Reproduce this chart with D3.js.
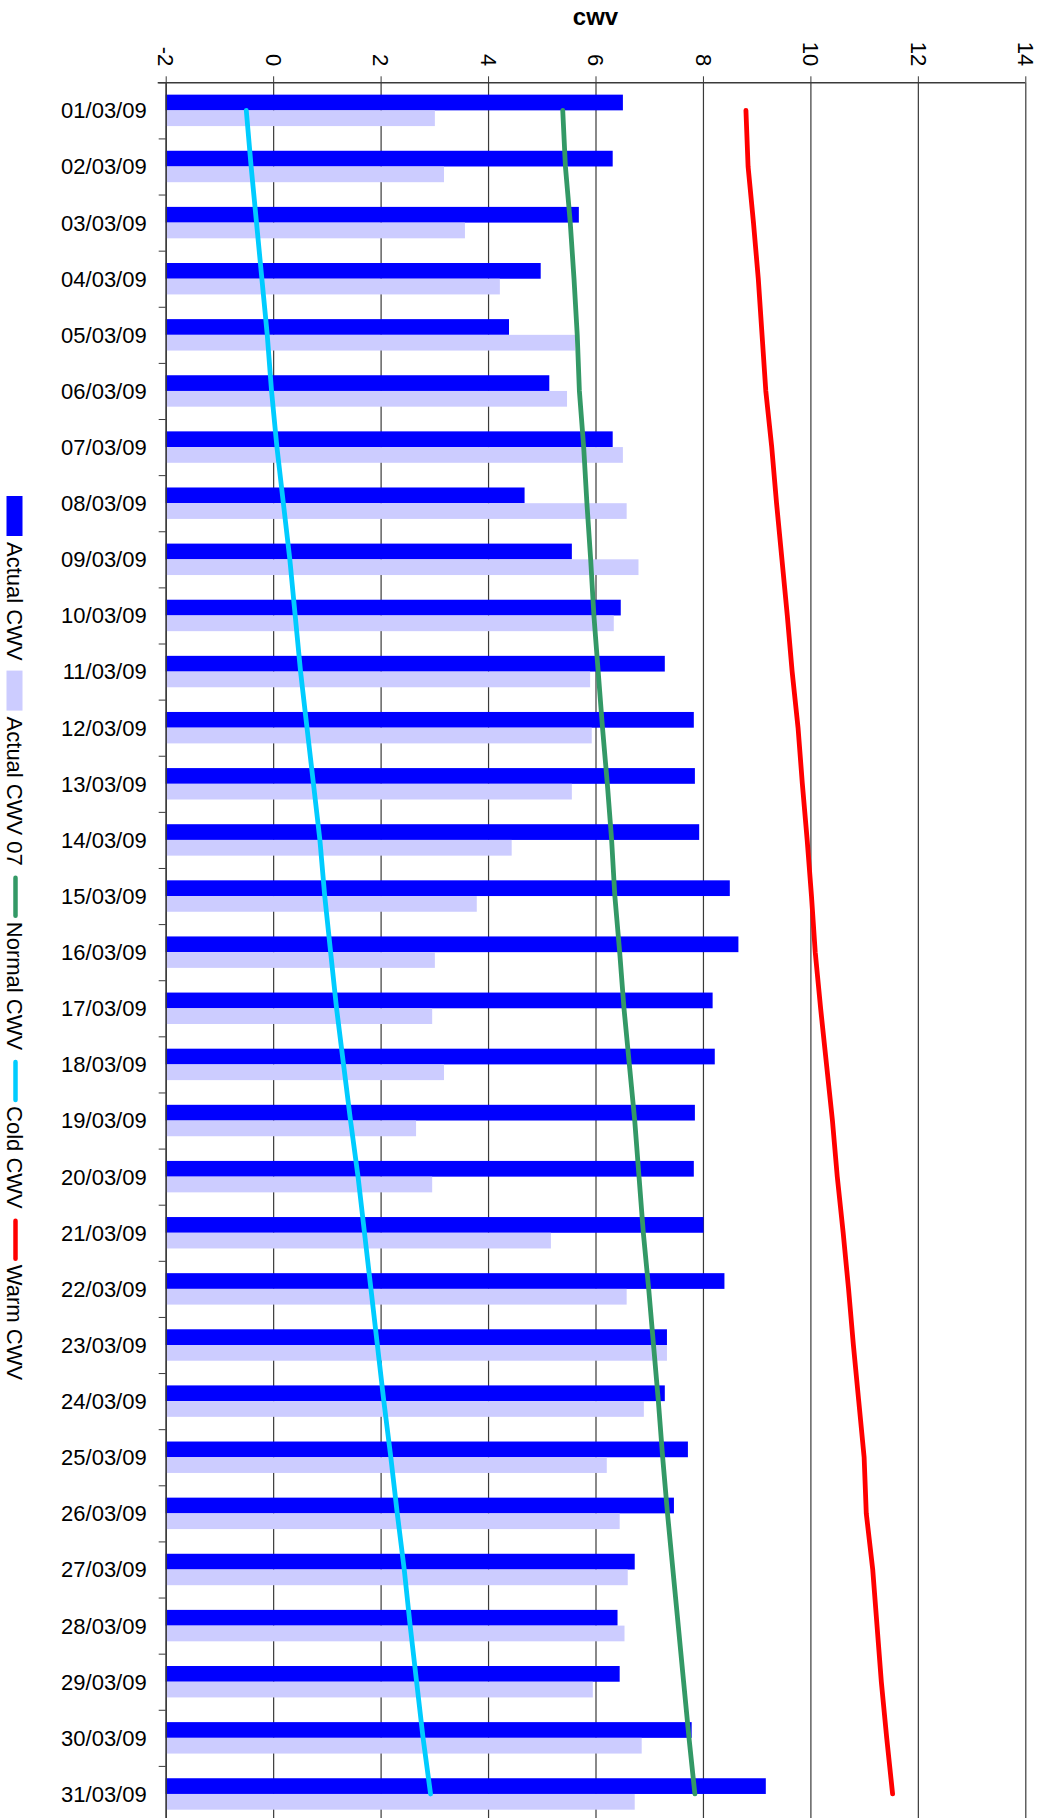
<!DOCTYPE html>
<html>
<head>
<meta charset="utf-8">
<script src="https://cdn.jsdelivr.net/npm/d3@7"></script>
<style>
  body { margin: 0; background: #fff; }
  text { font-family: "Liberation Sans", Arial, sans-serif; }
</style>
</head>
<body>
<div id="chart"></div>
<script>
let dates = ["01/03/09","02/03/09","03/03/09","04/03/09","05/03/09","06/03/09","07/03/09","08/03/09",
    "09/03/09","10/03/09","11/03/09","12/03/09","13/03/09","14/03/09","15/03/09","16/03/09",
    "17/03/09","18/03/09","19/03/09","20/03/09","21/03/09","22/03/09","23/03/09","24/03/09",
    "25/03/09","26/03/09","27/03/09","28/03/09","29/03/09","30/03/09","31/03/09"];

let actualCwv = [6.51,6.32,5.69,4.98,4.39,5.14,6.32,4.68,5.56,6.47,7.29,7.83,7.85,7.93,8.50,8.66,
    8.18,8.22,7.85,7.83,8.01,8.40,7.33,7.29,7.72,7.46,6.73,6.41,6.45,7.79,9.17];
let actualCwv07 = [3.01,3.18,3.57,4.22,5.62,5.47,6.51,6.58,6.80,6.34,5.90,5.93,5.56,4.44,3.79,3.01,
    2.96,3.18,2.66,2.96,5.17,6.58,7.33,6.90,6.21,6.45,6.60,6.54,5.95,6.86,6.73];
let normalCwv = [5.39,5.44,5.53,5.60,5.66,5.70,5.78,5.84,5.91,5.97,6.05,6.13,6.22,6.30,6.36,6.45,
    6.53,6.63,6.73,6.81,6.89,6.99,7.08,7.17,7.25,7.34,7.44,7.54,7.64,7.74,7.85];
let coldCwv = [-0.50,-0.41,-0.31,-0.21,-0.11,-0.03,0.07,0.19,0.31,0.41,0.51,0.63,0.75,0.87,0.96,1.07,
    1.18,1.31,1.44,1.58,1.70,1.82,1.94,2.06,2.19,2.31,2.44,2.55,2.67,2.79,2.93];
let warmCwv = [8.80,8.84,8.94,9.03,9.10,9.17,9.28,9.37,9.47,9.57,9.66,9.77,9.85,9.94,10.02,10.09,
    10.19,10.30,10.41,10.50,10.61,10.71,10.80,10.90,11.00,11.04,11.16,11.24,11.32,11.42,11.53];

let xTicks = [-2, 0, 2, 4, 6, 8, 10, 12, 14];

let barSeries = [
    {name: "Actual CWV", values: actualCwv, color: "#0000ff"},
    {name: "Actual CWV 07", values: actualCwv07, color: "#ccccff"}
];
let lineSeries = [
    {name: "Normal CWV", values: normalCwv, color: "#339966"},
    {name: "Cold CWV", values: coldCwv, color: "#00ccff"},
    {name: "Warm CWV", values: warmCwv, color: "#ff0000"}
];

const width = 1047, height = 1818;
const plot = {left: 165.7, right: 1025.3, top: 82.3, bottom: 82.3 + 31 * 56.12};

let svg = d3.select("#chart")
    .append("svg")
    .attr("width", width)
    .attr("height", height);

let x = d3.scaleLinear()
    .domain([-2, 14])
    .range([plot.left, plot.right]);

let y = d3.scaleBand()
    .domain(dates)
    .range([plot.top, plot.bottom])
    .paddingInner(0.44)
    .paddingOuter(0.22);

let ySub = d3.scaleBand()
    .domain(barSeries.map(d => d.name))
    .range([0, y.bandwidth()]);

// row boundary ticks
let yIdx = d3.scaleLinear().domain([0, dates.length]).range([plot.top, plot.bottom]);

// vertical gridlines
svg.append("g")
    .attr("transform", `translate(0, ${plot.top})`)
    .call(d3.axisBottom(x).tickValues(xTicks).tickSize(plot.bottom - plot.top).tickFormat(""))
    .call(g => g.select(".domain").remove())
    .call(g => g.selectAll("line").attr("stroke", "#3a3a3a").attr("stroke-width", 1.2));

// bars
let groups = svg.append("g")
    .selectAll("g")
    .data(barSeries)
    .enter()
    .append("g")
    .attr("fill", d => d.color);

groups.selectAll("rect")
    .data(s => s.values.map((v, i) => ({name: s.name, date: dates[i], value: v})))
    .enter()
    .append("rect")
    .attr("x", x(-2))
    .attr("y", d => y(d.date) + ySub(d.name))
    .attr("width", d => x(d.value) - x(-2))
    .attr("height", ySub.bandwidth());

// lines
let line = d3.line()
    .x(d => x(d.value))
    .y(d => y(d.date) + y.bandwidth() / 2);

svg.append("g")
    .selectAll("path")
    .data(lineSeries)
    .enter()
    .append("path")
    .attr("fill", "none")
    .attr("stroke", d => d.color)
    .attr("stroke-width", 4.8)
    .attr("stroke-linecap", "round")
    .attr("stroke-linejoin", "round")
    .attr("d", s => line(s.values.map((v, i) => ({date: dates[i], value: v}))));

// value axis on top, labels turned a quarter
let xAxis = svg.append("g")
    .attr("transform", `translate(0, ${plot.top})`)
    .call(d3.axisTop(x).tickValues(xTicks).tickSize(6).tickSizeOuter(0).tickFormat(d => String(d)));
xAxis.select(".domain").attr("stroke", "#3a3a3a").attr("stroke-width", 1.5)
    .attr("d", `M${plot.left - 8},0.5H${plot.right}`);
xAxis.selectAll("line").attr("stroke", "#3a3a3a");
xAxis.selectAll("text")
    .attr("x", -16)
    .attr("y", 0)
    .attr("dy", "0.35em")
    .attr("transform", "rotate(90)")
    .style("text-anchor", "end")
    .style("font-size", "22px")
    .attr("fill", "#000");

// category axis
let yTickAxis = svg.append("g")
    .attr("transform", `translate(${plot.left}, 0)`)
    .call(d3.axisLeft(yIdx).tickValues(d3.range(dates.length + 1)).tickSize(7).tickSizeOuter(0).tickFormat(""));
yTickAxis.select(".domain").attr("stroke", "#3a3a3a").attr("stroke-width", 1.5);
yTickAxis.selectAll("line").attr("stroke", "#3a3a3a");

svg.append("g")
    .attr("transform", `translate(${plot.left}, 0)`)
    .call(d3.axisLeft(y).tickSize(0).tickPadding(19))
    .call(g => g.select(".domain").remove())
    .call(g => g.selectAll("text")
        .style("font-size", "22px")
        .attr("fill", "#000")
        .attr("dy", "0.36em"));

// title
svg.append("text")
    .attr("x", (plot.left + plot.right) / 2)
    .attr("y", 25)
    .style("text-anchor", "middle")
    .style("font-size", "24px")
    .style("font-weight", "bold")
    .text("cwv");

// legend, rotated down the left edge
let legendItems = barSeries.map(d => ({name: d.name, color: d.color, kind: "bar"}))
    .concat(lineSeries.map(d => ({name: d.name, color: d.color, kind: "line"})));

let legend = svg.append("g")
    .attr("transform", "translate(14.5, 496) rotate(90)");

let pos = 0;
legendItems.forEach(function(item) {
    if (item.kind == "bar") {
        legend.append("rect")
            .attr("x", pos)
            .attr("y", -8)
            .attr("width", 40)
            .attr("height", 16)
            .attr("fill", item.color);
    } else {
        legend.append("line")
            .attr("x1", pos + 2)
            .attr("x2", pos + 40)
            .attr("y1", -1)
            .attr("y2", -1)
            .attr("stroke", item.color)
            .attr("stroke-width", 4.5)
            .attr("stroke-linecap", "round");
    }
    pos += 46;
    let t = legend.append("text")
        .attr("x", pos)
        .attr("y", 0)
        .attr("dy", "0.35em")
        .style("font-size", "22px")
        .text(item.name);
    pos += t.node().getComputedTextLength() + 10;
});
</script>
</body>
</html>
